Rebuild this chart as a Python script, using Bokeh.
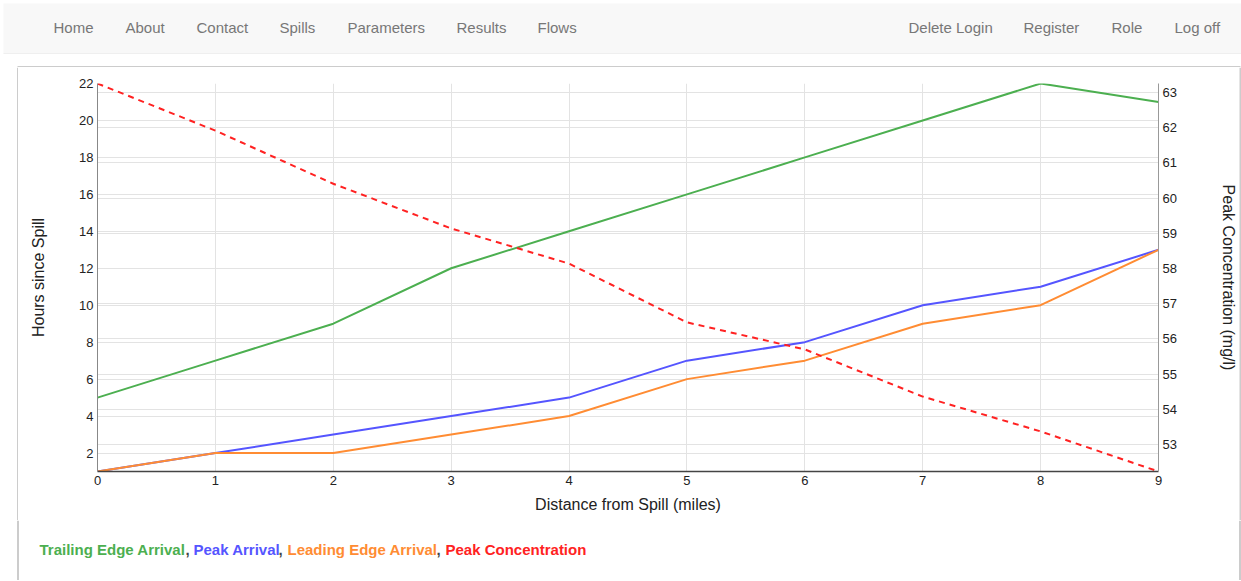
from bokeh.plotting import figure
from bokeh.layouts import column, row
from bokeh.models import Range1d, LinearAxis, FixedTicker, Grid
from bokeh.embed import file_html
from bokeh.resources import INLINE
from bokeh.core.properties import value

# ---------------- data ----------------
distance = [0, 1, 2, 3, 4, 5, 6, 7, 8, 9]
trailing_edge = [5, 7, 9, 12, 14, 16, 18, 20, 22, 21]
peak_arrival = [1, 2, 3, 4, 5, 7, 8, 10, 11, 13]
leading_edge = [1, 2, 2, 3, 4, 6, 7, 9, 10, 13]
peak_conc = [63.26, 61.92, 60.41, 59.14, 58.14, 56.47, 55.70, 54.36, 53.37, 52.23]

left_ticks = [2, 4, 6, 8, 10, 12, 14, 16, 18, 20, 22]
right_ticks = [53, 54, 55, 56, 57, 58, 59, 60, 61, 62, 63]
x_ticks = [0, 1, 2, 3, 4, 5, 6, 7, 8, 9]

nav_labels = ["Home", "About", "Contact", "Spills", "Parameters", "Results", "Flows",
              "Delete Login", "Register", "Role", "Log off"]
series_names = ["Trailing Edge Arrival", "Peak Arrival", "Leading Edge Arrival", "Peak Concentration"]

# ---------------- styles / layout ----------------
FONT = "Liberation Sans"
W = 1241
GREEN, BLUE, ORANGE, RED = "#4CAF50", "#5555FF", "#FF8C33", "#FF2222"
BORDER = "#999999"
nav_x = [53, 125, 196, 279, 347, 456, 537, 908, 1023, 1111, 1174]


def blank(w, h):
    f = figure(width=w, height=h, x_range=Range1d(0, w), y_range=Range1d(h, 0),
               output_backend="svg", toolbar_location=None, min_border=0,
               x_axis_location=None, y_axis_location=None, title=None)
    f.grid.visible = False
    f.outline_line_color = None
    f.background_fill_color = "white"
    f.border_fill_color = "white"
    f.frame_align = False
    return f


# ---------------- nav bar ----------------
NAV_H = 54
nav = blank(W, NAV_H)
nav.quad(left=[3], right=[W], top=[3], bottom=[53], fill_color="#f8f8f8", line_color=None)
nav.segment(x0=[3], y0=[53.5], x1=[W], y1=[53.5], line_color="#e3e3e3", line_width=1)
nav.text(x=nav_x, y=[27] * len(nav_labels), text=nav_labels,
         text_font=value(FONT), text_font_size="15px", text_color="#777777",
         text_baseline="middle", text_align="left")

# ---------------- top border strip ----------------
TOP_H = 13
top = blank(W, TOP_H)
top.segment(x0=[17], y0=[12.5], x1=[1240], y1=[12.5], line_color=BORDER, line_width=1)

# ---------------- main chart ----------------
MAIN_H = 453
LEFT_W, RIGHT_W = 18, 2
MAIN_W = W - LEFT_W - RIGHT_W
p = figure(width=MAIN_W, height=MAIN_H, x_range=Range1d(0, 9), y_range=Range1d(1, 22),
           output_backend="svg", toolbar_location=None, title=None,
           min_border_left=79, min_border_right=80, min_border_top=16, min_border_bottom=49)
p.frame_align = False
p.outline_line_color = None
p.background_fill_color = "white"
p.extra_y_ranges = {"conc": Range1d(min(peak_conc), max(peak_conc))}

GRID = "#e3e3e3"
p.xaxis.ticker = FixedTicker(ticks=x_ticks)
p.yaxis.ticker = FixedTicker(ticks=left_ticks)
p.xgrid.ticker = FixedTicker(ticks=x_ticks)
p.ygrid.ticker = FixedTicker(ticks=left_ticks)
p.xgrid.grid_line_color = GRID
p.ygrid.grid_line_color = GRID
p.add_layout(Grid(dimension=1, y_range_name="conc", ticker=FixedTicker(ticks=right_ticks),
                  grid_line_color=GRID))

laxis = p.yaxis[0]
baxis = p.xaxis[0]
raxis = LinearAxis(y_range_name="conc", ticker=FixedTicker(ticks=right_ticks))
p.add_layout(raxis, "right")

baxis.axis_label = "Distance from Spill (miles)"
laxis.axis_label = "Hours since Spill"
raxis.axis_label = "Peak Concentration (mg/l)"

for ax in [baxis, laxis, raxis]:
    ax.major_tick_line_color = None
    ax.minor_tick_line_color = None
    ax.major_tick_out = 0
    ax.major_tick_in = 0
    ax.minor_tick_out = 0
    ax.minor_tick_in = 0
    ax.major_label_text_font = FONT
    ax.major_label_text_font_size = "13px"
    ax.major_label_text_color = "#222222"
    ax.axis_label_text_font = FONT
    ax.axis_label_text_font_size = "16px"
    ax.axis_label_text_font_style = "normal"
    ax.axis_label_text_color = "#222222"
    ax.major_label_standoff = 4

laxis.axis_line_color = "#888888"
raxis.axis_line_color = "#999999"
baxis.axis_line_color = "#444444"
baxis.axis_line_width = 1.5
laxis.axis_label_standoff = 29
raxis.axis_label_standoff = 40
baxis.axis_label_standoff = 8

p.line(distance, trailing_edge, line_color=GREEN, line_width=2)
p.line(distance, peak_arrival, line_color=BLUE, line_width=2)
p.line(distance, leading_edge, line_color=ORANGE, line_width=2)
p.line(distance, peak_conc, y_range_name="conc", line_color=RED, line_width=2, line_dash="6 5")

lstrip = blank(LEFT_W, MAIN_H)
lstrip.segment(x0=[17.5], y0=[0], x1=[17.5], y1=[MAIN_H], line_color=BORDER, line_width=1)
rstrip = blank(RIGHT_W, MAIN_H)
rstrip.segment(x0=[0.5], y0=[0], x1=[0.5], y1=[MAIN_H], line_color=BORDER, line_width=1)

# ---------------- legend strip ----------------
LEG_H = 60
leg = blank(W, LEG_H)
leg.segment(x0=[17.5, 1239.5], y0=[0, 0], x1=[17.5, 1239.5], y1=[LEG_H, LEG_H],
            line_color=BORDER, line_width=1)
legend_text = [series_names[0], ",", series_names[1], ",", series_names[2], ",", series_names[3]]
legend_color = [GREEN, "#444444", BLUE, "#444444", ORANGE, "#444444", RED]
legend_x = [39, 185, 193, 278, 287, 436, 445]
leg.text(x=legend_x, y=[29] * len(legend_text), text=legend_text, text_color=legend_color,
         text_font=value(FONT), text_font_size="15px", text_font_style="bold",
         text_baseline="middle", text_align="left")

layout = column(nav, top, row(lstrip, p, rstrip), leg)
open("out.html", "w").write(file_html(layout, INLINE))
